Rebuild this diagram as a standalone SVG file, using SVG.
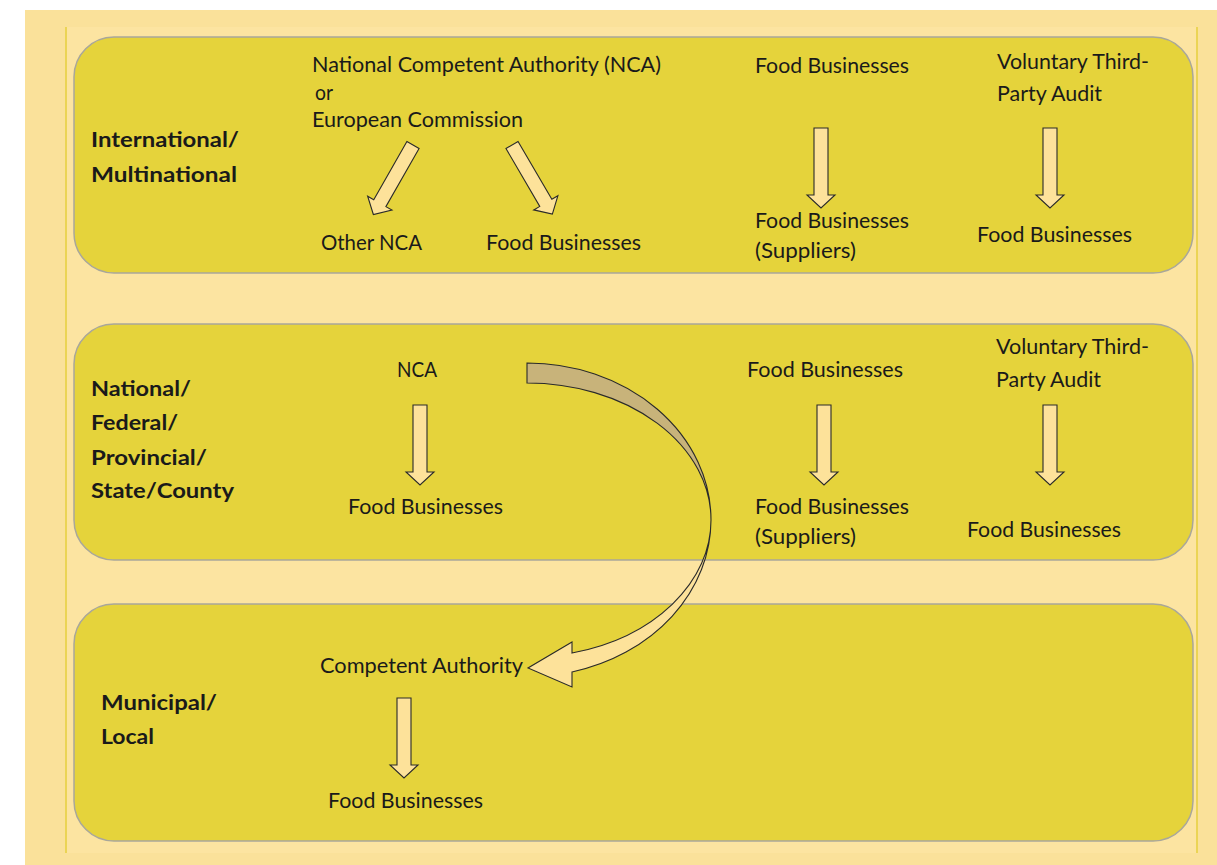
<svg xmlns="http://www.w3.org/2000/svg" xmlns:xlink="http://www.w3.org/1999/xlink" width="1217" height="865" viewBox="0 0 1217 865">
<style>
.t{font-family:Lato,"Liberation Sans",Arial,sans-serif;font-size:21px;fill:#1a1a1a}
.b{font-weight:bold}
.lvl{fill:#E5D33B;stroke:#A9A79A;stroke-width:1.5}
.ar{fill:#FDE29A;stroke:#2a2a2a;stroke-width:1.1;stroke-linejoin:miter}
.back{fill:#C8B37A;stroke:#2a2a2a;stroke-width:1.1}
</style>
<defs>
<path id="va" d="M -7,0 H 7 V 67 H 14 L 0,80 L -14,67 H -7 Z"/>
</defs>
<rect x="25" y="10" width="1192" height="855" fill="#FAE19A"/>
<rect x="66" y="27" width="1131" height="826" fill="#FCE4A1"/>
<line x1="66" y1="27" x2="66" y2="853" stroke="#E6CF3C" stroke-width="1.5"/>
<line x1="1197" y1="27" x2="1197" y2="853" stroke="#E6CF3C" stroke-width="1.5"/>

<g id="level-international">
<rect class="lvl" x="74" y="37" width="1119" height="236" rx="40"/>
<text class="t b" x="91" y="147" textLength="148" lengthAdjust="spacingAndGlyphs">International/</text>
<text class="t b" x="91" y="182" textLength="146" lengthAdjust="spacingAndGlyphs">Multinational</text>
</g>
<g id="level-national">
<rect class="lvl" x="74" y="324" width="1119" height="236" rx="40"/>
<text class="t b" x="91" y="396" textLength="100" lengthAdjust="spacingAndGlyphs">National/</text>
<text class="t b" x="91" y="430" textLength="87" lengthAdjust="spacingAndGlyphs">Federal/</text>
<text class="t b" x="91" y="465" textLength="116" lengthAdjust="spacingAndGlyphs">Provincial/</text>
<text class="t b" x="91" y="498" textLength="143" lengthAdjust="spacingAndGlyphs">State/County</text>
</g>
<g id="level-municipal">
<rect class="lvl" x="74" y="604" width="1119" height="237" rx="40"/>
<text class="t b" x="101" y="710" textLength="116" lengthAdjust="spacingAndGlyphs">Municipal/</text>
<text class="t b" x="101" y="744" textLength="53" lengthAdjust="spacingAndGlyphs">Local</text>
</g>

<g id="n-nca-ec">
<text class="t" x="312" y="72" textLength="349" lengthAdjust="spacingAndGlyphs">National Competent Authority (NCA)</text>
<text class="t" x="315" y="100" textLength="18" lengthAdjust="spacingAndGlyphs">or</text>
<text class="t" x="312" y="127" textLength="211" lengthAdjust="spacingAndGlyphs">European Commission</text>
</g>
<g id="n-other-nca"><text class="t" x="321" y="250" textLength="101" lengthAdjust="spacingAndGlyphs">Other NCA</text></g>
<g id="n-fb-1a"><text class="t" x="486" y="250" textLength="155" lengthAdjust="spacingAndGlyphs">Food Businesses</text></g>
<g id="n-fb-1b"><text class="t" x="755" y="73" textLength="154" lengthAdjust="spacingAndGlyphs">Food Businesses</text></g>
<g id="n-fbs-1">
<text class="t" x="755" y="228" textLength="154" lengthAdjust="spacingAndGlyphs">Food Businesses</text>
<text class="t" x="755" y="258" textLength="101" lengthAdjust="spacingAndGlyphs">(Suppliers)</text>
</g>
<g id="n-audit-1">
<text class="t" x="997" y="69" textLength="152" lengthAdjust="spacingAndGlyphs">Voluntary Third-</text>
<text class="t" x="997" y="101" textLength="105" lengthAdjust="spacingAndGlyphs">Party Audit</text>
</g>
<g id="n-fb-1c"><text class="t" x="977" y="242" textLength="155" lengthAdjust="spacingAndGlyphs">Food Businesses</text></g>

<g id="n-nca-2"><text class="t" x="397" y="377" textLength="40" lengthAdjust="spacingAndGlyphs">NCA</text></g>
<g id="n-fb-2a"><text class="t" x="348" y="514" textLength="155" lengthAdjust="spacingAndGlyphs">Food Businesses</text></g>
<g id="n-fb-2b"><text class="t" x="747" y="377" textLength="156" lengthAdjust="spacingAndGlyphs">Food Businesses</text></g>
<g id="n-fbs-2">
<text class="t" x="755" y="514" textLength="154" lengthAdjust="spacingAndGlyphs">Food Businesses</text>
<text class="t" x="755" y="544" textLength="101" lengthAdjust="spacingAndGlyphs">(Suppliers)</text>
</g>
<g id="n-audit-2">
<text class="t" x="996" y="354" textLength="153" lengthAdjust="spacingAndGlyphs">Voluntary Third-</text>
<text class="t" x="996" y="387" textLength="105" lengthAdjust="spacingAndGlyphs">Party Audit</text>
</g>
<g id="n-fb-2c"><text class="t" x="967" y="537" textLength="154" lengthAdjust="spacingAndGlyphs">Food Businesses</text></g>

<g id="n-ca-3"><text class="t" x="320" y="673" textLength="203" lengthAdjust="spacingAndGlyphs">Competent Authority</text></g>
<g id="n-fb-3"><text class="t" x="328" y="808" textLength="155" lengthAdjust="spacingAndGlyphs">Food Businesses</text></g>

<g id="connectors">
<use xlink:href="#va" href="#va" class="ar" transform="translate(413,145) rotate(29.7)"/>
<use xlink:href="#va" href="#va" class="ar" transform="translate(512,145) rotate(-30.3)"/>
<use xlink:href="#va" href="#va" class="ar" transform="translate(821,128)"/>
<use xlink:href="#va" href="#va" class="ar" transform="translate(1050,128)"/>
<use xlink:href="#va" href="#va" class="ar" transform="translate(420,405)"/>
<use xlink:href="#va" href="#va" class="ar" transform="translate(824,405)"/>
<use xlink:href="#va" href="#va" class="ar" transform="translate(1050,405)"/>
<use xlink:href="#va" href="#va" class="ar" transform="translate(404,698)"/>
<path class="back" d="M 527,363 A 184 157 0 0 1 711,520 A 184 137 0 0 0 527,383 Z"/>
<path class="ar" d="M 711,520 A 184 157 0 0 1 572,672 L 572,687 L 528,668 L 572,642 L 572,653 A 184 137 0 0 0 711,520 Z"/>
</g>
</svg>
